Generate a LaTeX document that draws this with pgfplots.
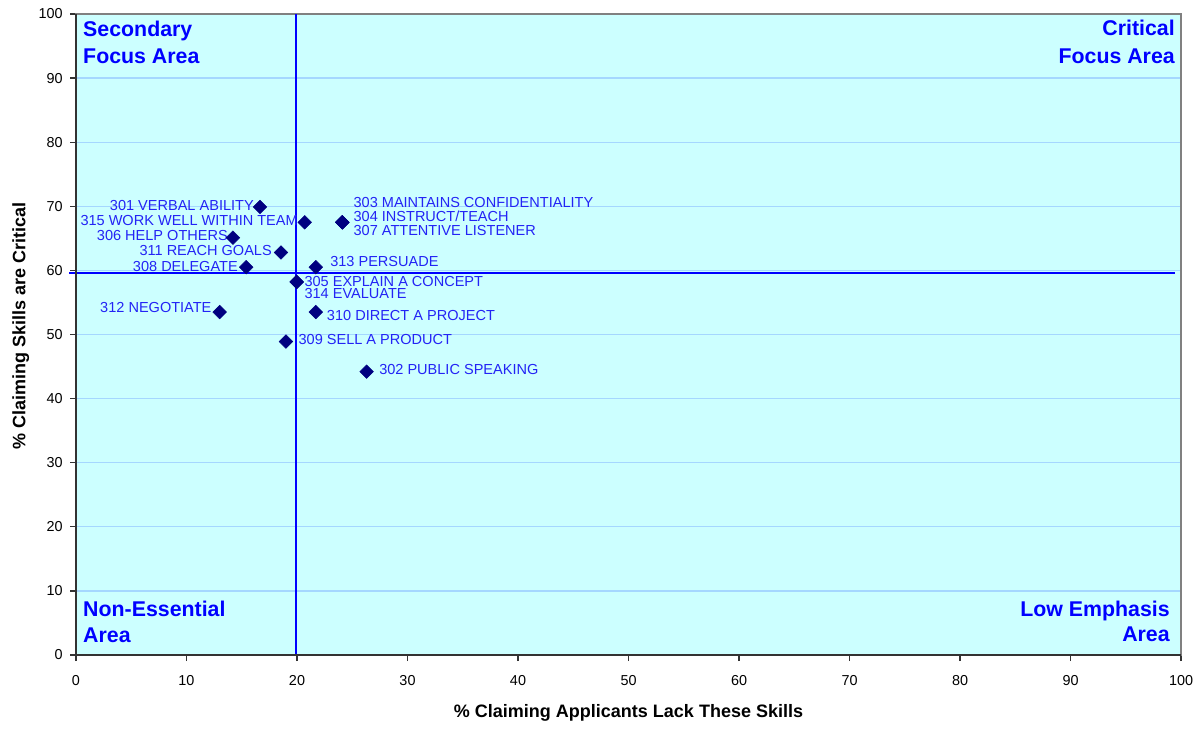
\documentclass[border=0pt]{standalone}
\usepackage{fontspec}
\setmainfont{Liberation Sans}
\usepackage{pgfplots}
\pgfplotsset{compat=1.18}
\definecolor{plotbg}{RGB}{204,255,255}
\definecolor{gridblue}{RGB}{165,215,255}
\definecolor{refblue}{RGB}{0,0,255}
\definecolor{marknavy}{RGB}{0,0,128}
\definecolor{labblue}{RGB}{35,35,245}
\begin{document}
\begin{tikzpicture}
% 1px of the reference = 0.75pt
\useasboundingbox (-57pt,-55.5pt) rectangle (843.75pt,491.25pt);
\begin{axis}[
    scale only axis,
    width=828.75pt, height=480.75pt,
    xmin=0, xmax=100, ymin=0, ymax=100,
    xtick={0,10,...,100}, ytick={0,10,...,100},
    ymajorgrids,
    grid style={gridblue, line width=1pt},
    axis background/.style={fill=plotbg},
    axis line style={draw=gray, line width=1pt},
    tick align=outside, xtick pos=bottom, ytick pos=left,
    major tick length=4.5pt,
    tick style={black!80, line width=1pt},
    /pgf/number format/assume math mode=true,
    tick label style={font=\fontsize{10.8}{12}\selectfont},
    xticklabel style={yshift=-7pt},
    yticklabel style={xshift=-2pt},
    xlabel={\% Claiming Applicants Lack These Skills},
    ylabel={\% Claiming Skills are Critical},
    label style={font=\fontsize{13.5}{16}\selectfont\bfseries, inner sep=0pt},
    xlabel style={at={(axis description cs:0.5,0)}, anchor=north, yshift=-37pt},
    ylabel style={at={(axis description cs:0,0.513)}, anchor=north, yshift=48pt},
    clip=false,
    every node/.append style={inner sep=0pt},
]
% mean lines
\addplot[refblue, line width=1.5pt] coordinates {(19.95,0) (19.95,100)};
\addplot[refblue, line width=1.5pt] coordinates {(-0.6,59.65) (99.5,59.65)};
% skills
\addplot[only marks, mark=square*, mark size=3.6pt,
    mark options={rotate=45, fill=marknavy, draw=marknavy}] coordinates {
    (16.65,69.9)  % 301
    (26.3,44.2)   % 302
    (24.1,67.5)   % 303
    (24.1,67.5)   % 304
    (19.97,58.2)  % 305
    (14.2,65.1)   % 306
    (24.1,67.5)   % 307
    (15.4,60.5)   % 308
    (19.0,48.9)   % 309
    (21.7,53.5)   % 310
    (18.55,62.8)  % 311
    (13.0,53.5)   % 312
    (21.7,60.5)   % 313
    (19.97,58.2)  % 314
    (20.7,67.5)   % 315
};
\draw[black!80, line width=1.5pt] (rel axis cs:0,1) -- (rel axis cs:0,0) -- (rel axis cs:1,0);
% point labels
\begin{scope}[every node/.style={font=\fontsize{10.9}{12}\selectfont, text=labblue, inner sep=0pt}]
\node[anchor=mid east] at (axis cs:16.11,69.89) {301 VERBAL ABILITY};
\node[anchor=mid east] at (axis cs:20.09,67.55) {315 WORK WELL WITHIN TEAM};
\node[anchor=mid east] at (axis cs:13.76,65.26) {306 HELP OTHERS};
\node[anchor=mid east] at (axis cs:17.74,62.87) {311 REACH GOALS};
\node[anchor=mid east] at (axis cs:14.66,60.42) {308 DELEGATE};
\node[anchor=mid east] at (axis cs:12.28,53.98) {312 NEGOTIATE};
\node[anchor=mid west] at (axis cs:25.10,70.36) {303 MAINTAINS CONFIDENTIALITY};
\node[anchor=mid west] at (axis cs:25.10,68.17) {304 INSTRUCT/TEACH};
\node[anchor=mid west] at (axis cs:25.10,65.99) {307 ATTENTIVE LISTENER};
\node[anchor=mid west] at (axis cs:22.99,61.20) {313 PERSUADE};
\node[anchor=mid west] at (axis cs:20.66,58.08) {305 EXPLAIN A CONCEPT};
\node[anchor=mid west] at (axis cs:20.66,56.16) {314 EVALUATE};
\node[anchor=mid west] at (axis cs:22.69,52.78) {310 DIRECT A PROJECT};
\node[anchor=mid west] at (axis cs:20.12,48.99) {309 SELL A PRODUCT};
\node[anchor=mid west] at (axis cs:27.42,44.31) {302 PUBLIC SPEAKING};
\end{scope}
% quadrant names
\begin{scope}[every node/.style={font=\fontsize{16}{19}\selectfont\bfseries, text=refblue, inner sep=0pt}]
\node[anchor=base west] at (axis cs:0.63,96.46) {Secondary};
\node[anchor=base west] at (axis cs:0.63,92.20) {Focus Area};
\node[anchor=base east] at (axis cs:99.46,96.57) {Critical};
\node[anchor=base east] at (axis cs:99.46,92.20) {Focus Area};
\node[anchor=base west] at (axis cs:0.63,6.08) {Non-Essential};
\node[anchor=base west] at (axis cs:0.63,1.92) {Area};
\node[anchor=base east] at (axis cs:99.0,6.08) {Low Emphasis};
\node[anchor=base east] at (axis cs:99.0,2.03) {Area};
\end{scope}
\end{axis}
\end{tikzpicture}
\end{document}
